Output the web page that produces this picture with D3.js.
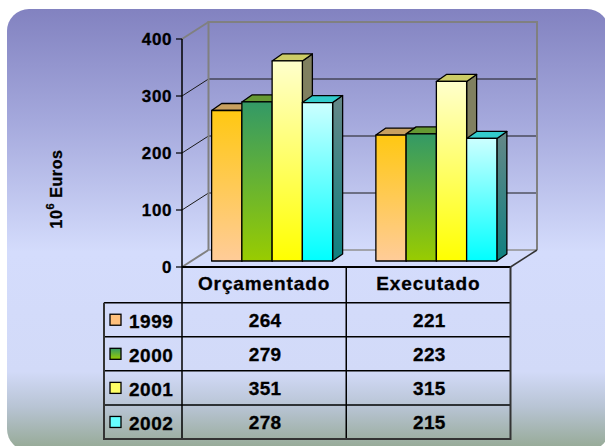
<!DOCTYPE html>
<html><head><meta charset="utf-8">
<script src="https://cdn.jsdelivr.net/npm/d3@7"></script>
<style>
html,body{margin:0;padding:0;background:#fff;}
svg{display:block;}
text{font-family:"Liberation Sans",Arial,sans-serif;font-weight:bold;fill:#000;}
</style></head>
<body>
<script>
// ---- data ----
const categories = ["Orçamentado", "Executado"];
const years = ["1999", "2000", "2001", "2002"];
const orcamentado = [264, 279, 351, 278];
const executado = [221, 223, 315, 215];
const yTicks = [0, 100, 200, 300, 400];
const yLabelMain = "10";
const yLabelSup = "6";
const yLabelRest = " Euros";

const seriesByCat = [orcamentado, executado];

// ---- styles ----
const frontGrad = [["#FFC812", "#FFCC99"], ["#339966", "#99CC00"], ["#FFFFCC", "#FFFF00"], ["#CCFFFF", "#00FFFF"]];
const topCol = ["#C8A060", "#669933", "#CCCC66", "#33CCCC"];
const sideGrad = [["#B08840", "#A08050"], ["#336633", "#557711"], ["#808060", "#808060"], ["#668888", "#0E8080"]];
const legendFill = ["#FFC07C", "url(#g1)", "#FFFF66", "#66FFFF"];

const W = 605, H = 446;
const svg = d3.select("body").append("svg").attr("width", W).attr("height", H);
const defs = svg.append("defs");

const bg = defs.append("linearGradient").attr("id", "bg").attr("x1", 0).attr("y1", 0).attr("x2", 0).attr("y2", 1);
[[0, "#8282C0"], [0.25, "#A4A8DC"], [0.55, "#D4DCFC"], [0.82, "#D2DAF8"], [0.9, "#B8C4D4"], [1, "#94A892"]]
  .forEach(([o, c]) => bg.append("stop").attr("offset", o).attr("stop-color", c));

frontGrad.forEach((g, i) => {
  const lg = defs.append("linearGradient").attr("id", "g" + i).attr("x1", 0).attr("y1", 0).attr("x2", 0).attr("y2", 1);
  lg.append("stop").attr("offset", 0).attr("stop-color", g[0]);
  lg.append("stop").attr("offset", 1).attr("stop-color", g[1]);
});
sideGrad.forEach((g, i) => {
  const lg = defs.append("linearGradient").attr("id", "s" + i).attr("x1", 0).attr("y1", 0).attr("x2", 0).attr("y2", 1);
  lg.append("stop").attr("offset", 0).attr("stop-color", g[0]);
  lg.append("stop").attr("offset", 1).attr("stop-color", g[1]);
});

// background panel
svg.append("rect").attr("x", 7).attr("y", 9).attr("width", 602).attr("height", 442).attr("rx", 22).attr("fill", "url(#bg)");

// ---- scales ----
const plotLeft = 182, plotRight = 510.5;
const y = d3.scaleLinear().domain([0, 400]).range([267, 39]);
const x0 = d3.scaleBand().domain(categories).range([plotLeft, plotRight]);
const groupW = 121;
const x1 = d3.scaleBand().domain(years).range([0, groupW]);
const wall = {dx: 26.5, dy: 17};
const shift = {dx: 8, dy: 6};
const depth = {dx: 10, dy: 7};

const g = svg.append("g");

// back wall & side wall
const bx0 = plotLeft + wall.dx, bx1 = plotRight + wall.dx;
yTicks.forEach(t => {
  const yy = y(t) - wall.dy;
  const edge = (t === 0 || t === 400);
  if (!edge) {
    g.append("line").attr("x1", bx0).attr("x2", bx1).attr("y1", yy).attr("y2", yy)
      .attr("stroke", "#1a1a1a").attr("stroke-width", 1);
  }
  g.append("line").attr("x1", plotLeft).attr("y1", y(t)).attr("x2", bx0).attr("y2", yy)
    .attr("stroke", edge ? "#808080" : "#1a1a1a").attr("stroke-width", edge ? 2 : 1);
});
g.append("path")
  .attr("d", `M${bx0},${y(0) - wall.dy}V${y(400) - wall.dy}H${bx1}V${y(0) - wall.dy}`)
  .attr("fill", "none").attr("stroke", "#808080").attr("stroke-width", 2);
g.append("line").attr("x1", bx0).attr("x2", bx1).attr("y1", y(0) - wall.dy).attr("y2", y(0) - wall.dy)
  .attr("stroke", "#909090").attr("stroke-width", 1.5);
g.append("line").attr("x1", plotRight).attr("y1", y(0)).attr("x2", bx1).attr("y2", y(0) - wall.dy)
  .attr("stroke", "#333").attr("stroke-width", 1.5);

// ---- bars ----
categories.forEach((cat, ci) => {
  const gx = x0(cat) + (x0.bandwidth() - groupW) / 2 + shift.dx;
  years.forEach((yr, si) => {
    const v = seriesByCat[ci][si];
    const xl = gx + x1(yr), w = x1.bandwidth();
    const yt = y(v) - shift.dy, yb = y(0) - shift.dy;
    const bar = g.append("g").attr("stroke", "#000").attr("stroke-width", 1.3).attr("stroke-linejoin", "round");
    bar.append("path")
      .attr("d", `M${xl + w},${yt}L${xl + w + depth.dx},${yt - depth.dy}L${xl + w + depth.dx},${yb - depth.dy}L${xl + w},${yb}Z`)
      .attr("fill", `url(#s${si})`);
    bar.append("path")
      .attr("d", `M${xl},${yt}L${xl + depth.dx},${yt - depth.dy}L${xl + w + depth.dx},${yt - depth.dy}L${xl + w},${yt}Z`)
      .attr("fill", topCol[si]);
    bar.append("rect").attr("x", xl).attr("y", yt).attr("width", w).attr("height", yb - yt)
      .attr("fill", `url(#g${si})`);
  });
});

// ---- y axis ----
const tableBottom = 439;
g.append("line").attr("x1", plotLeft).attr("x2", plotLeft).attr("y1", y(400)).attr("y2", tableBottom)
  .attr("stroke", "#000").attr("stroke-width", 1.5);
yTicks.forEach(t => {
  g.append("line").attr("x1", plotLeft - 6).attr("x2", plotLeft).attr("y1", y(t)).attr("y2", y(t))
    .attr("stroke", "#000").attr("stroke-width", 1.2);
  g.append("text").attr("x", plotLeft - 10).attr("y", y(t) + 6).attr("text-anchor", "end")
    .attr("font-size", 17).attr("letter-spacing", 0.6).attr("stroke", "#000").attr("stroke-width", 0.3).text(t);
});

// y label
const yl = svg.append("text").attr("transform", "translate(62,189) rotate(-90)")
  .attr("text-anchor", "middle").attr("font-size", 16).attr("letter-spacing", 0.6)
  .attr("stroke", "#000").attr("stroke-width", 0.3);
yl.append("tspan").text(yLabelMain);
yl.append("tspan").attr("font-size", 11).attr("dy", -8).text(yLabelSup);
yl.append("tspan").attr("dy", 8).text(yLabelRest);

// ---- data table ----
const tableLeft = 104, headTop = y(0), headBottom = 302.7;
const rowH = (tableBottom - headBottom) / years.length;
const colMid = categories.map(c => x0(c) + x0.bandwidth() / 2);
const t = svg.append("g");
categories.forEach((c, i) => {
  t.append("text").attr("x", colMid[i]).attr("y", 290).attr("text-anchor", "middle")
    .attr("font-size", 19).attr("letter-spacing", 0.9).attr("stroke", "#000").attr("stroke-width", 0.3).text(c);
});
t.append("line").attr("x1", plotLeft).attr("x2", plotRight).attr("y1", headTop).attr("y2", headTop)
  .attr("stroke", "#000").attr("stroke-width", 2);
d3.range(years.length).forEach(i => {
  const yy = headBottom + i * rowH;
  t.append("line").attr("x1", tableLeft).attr("x2", plotRight).attr("y1", yy).attr("y2", yy)
    .attr("stroke", "#000").attr("stroke-width", 1.5);
});
t.append("line").attr("x1", x0(categories[1])).attr("x2", x0(categories[1])).attr("y1", headTop).attr("y2", tableBottom)
  .attr("stroke", "#000").attr("stroke-width", 1.5);
t.append("path").attr("d", `M${tableLeft},${headBottom}V${tableBottom}H${plotRight}V${headTop}`)
  .attr("fill", "none").attr("stroke", "#333").attr("stroke-width", 2);

years.forEach((yr, i) => {
  const cy = headBottom + i * rowH + rowH / 2;
  t.append("rect").attr("x", 110).attr("y", cy - 5.5).attr("width", 11).attr("height", 11)
    .attr("fill", legendFill[i]).attr("stroke", "#000").attr("stroke-width", 1.3);
  t.append("text").attr("x", 129).attr("y", cy + 8.5).attr("font-size", 19).attr("letter-spacing", 0.5)
    .attr("stroke", "#000").attr("stroke-width", 0.3).text(yr);
  categories.forEach((c, ci) => {
    t.append("text").attr("x", colMid[ci] + 1).attr("y", cy + 7).attr("text-anchor", "middle")
      .attr("font-size", 19).attr("letter-spacing", 0.3).attr("stroke", "#000").attr("stroke-width", 0.3)
      .text(seriesByCat[ci][i]);
  });
});
</script>
</body></html>
